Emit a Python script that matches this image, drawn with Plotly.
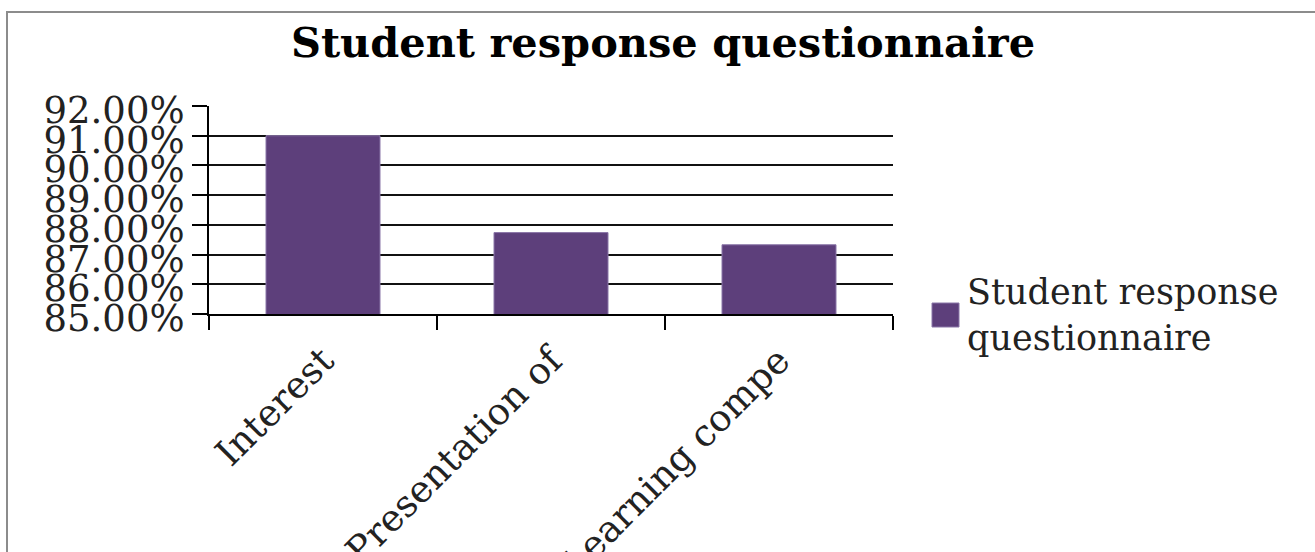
import plotly.graph_objects as go

# Data
categories = ["Interest", "Presentation of", "Learning compe"]
values = [0.91, 0.8774, 0.8733]
series_name = "Student response questionnaire"
chart_title = "Student response questionnaire"

# Canvas and plot-area geometry (pixels)
W, H = 1315, 552
PL, PR, PT, PB = 209, 893, 106, 314
FONT = "DejaVu Serif"
BAR_COLOR = "#5D3F7B"


def px_x(px):
    return (px - PL) / (PR - PL)


def px_y(py):
    return (PB - py) / (PB - PT)


fig = go.Figure()
fig.add_trace(
    go.Bar(
        x=categories,
        y=values,
        name=series_name,
        marker=dict(color=BAR_COLOR, line=dict(color="#8A76A8", width=1)),
        showlegend=False,
    )
)

# Legend key and label
fig.add_shape(
    type="rect", xref="paper", yref="paper",
    x0=px_x(932), x1=px_x(959), y0=px_y(327), y1=px_y(303),
    fillcolor=BAR_COLOR, line=dict(color="#8A76A8", width=1),
)
fig.add_annotation(
    x=px_x(965), y=px_y(270), xref="paper", yref="paper",
    text="Student response<br>questionnaire", showarrow=False,
    xanchor="left", yanchor="top", align="left",
    font=dict(family=FONT, size=35, color="#222222"),
)

# Outer frame
fig.add_shape(
    type="rect", xref="paper", yref="paper",
    x0=px_x(7), x1=px_x(1330), y0=px_y(570), y1=px_y(12),
    line=dict(color="#8C8C8C", width=2), fillcolor="rgba(0,0,0,0)",
    layer="below",
)

fig.update_layout(
    width=W, height=H,
    margin=dict(l=PL, r=W - PR, t=PT, b=H - PB, autoexpand=False),
    paper_bgcolor="white", plot_bgcolor="white",
    bargap=0.5,
    title=dict(
        text=chart_title, x=663 / W, xref="container", xanchor="center",
        y=1 - 28 / H, yref="container", yanchor="top",
        font=dict(family=FONT, size=41.5, color="#000000", weight="bold"),
    ),
    showlegend=False,
)
fig.update_xaxes(
    range=[-0.5, 2.5],
    showline=True, linecolor="#000000", linewidth=2,
    ticks="outside", tickson="boundaries", ticklen=14, tickwidth=2, tickcolor="#000000",
    tickangle=-45, tickfont=dict(family=FONT, size=37, color="#222222"),
    ticklabelstandoff=8,
    showgrid=False,
)
fig.update_yaxes(
    range=[0.85, 0.92], dtick=0.01, tickformat=".2%",
    showline=True, linecolor="#000000", linewidth=2,
    ticks="outside", ticklen=15, tickwidth=2, tickcolor="#000000",
    showgrid=True, gridcolor="#111111", gridwidth=2,
    tickfont=dict(family=FONT, size=37, color="#222222"),
    ticklabelshift=4,
)

fig.write_html("out.html")
